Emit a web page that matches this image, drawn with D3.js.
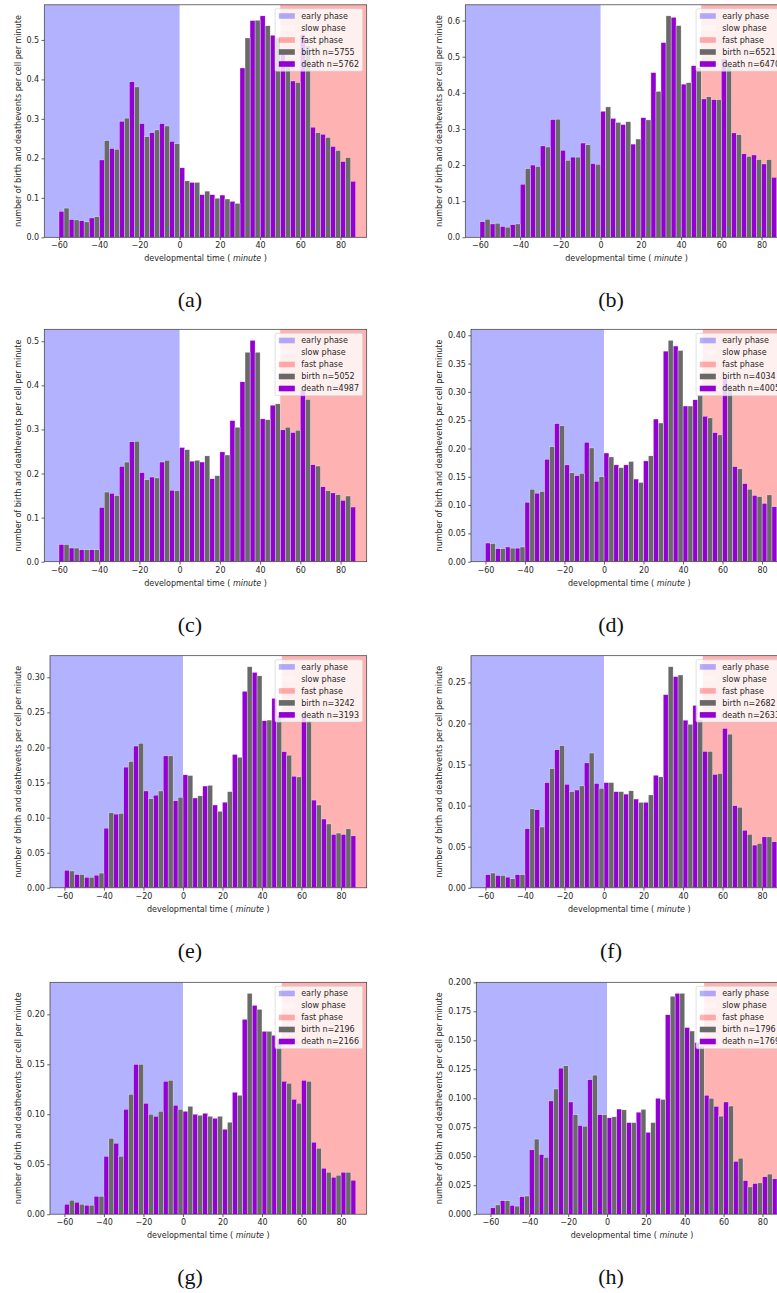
<!DOCTYPE html>
<html><head><meta charset="utf-8">
<script src="https://cdn.jsdelivr.net/npm/d3@7"></script>
<style>body{margin:0;background:#fff}svg{display:block}</style>
</head><body>
<svg id="c" width="777" height="1293"></svg>
<script>
// ---------- data ----------
const binStart = [-60,-55,-50,-45,-40,-35,-30,-25,-20,-15,-10,-5,0,5,10,15,20,25,30,35,40,45,50,55,60,65,70,75,80,85];
const xTicks = [-60,-40,-20,0,20,40,60,80];
const phaseNames = ["early phase","slow phase","fast phase"];
const phaseBounds = [0, 50];
const panelLabels = ["(a)","(b)","(c)","(d)","(e)","(f)","(g)","(h)"];
const nBirth = [5755,6521,5052,4034,3242,2682,2196,1796];
const nDeath = [5762,6470,4987,4005,3193,2633,2166,1769];

const deathA = [0.066,0.045,0.042,0.049,0.196,0.225,0.294,0.394,0.288,0.265,0.288,0.243,0.176,0.139,0.108,0.108,0.107,0.091,0.429,0.549,0.561,0.512,0.470,0.396,0.514,0.279,0.261,0.230,0.192,0.142];
const birthA = [0.074,0.044,0.039,0.052,0.245,0.223,0.302,0.381,0.255,0.272,0.282,0.237,0.143,0.139,0.117,0.099,0.097,0.086,0.505,0.550,0.536,0.505,0.440,0.392,0.485,0.265,0.253,0.220,0.202,null];
const deathB = [0.043,0.037,0.030,0.035,0.147,0.200,0.253,0.326,0.241,0.222,0.261,0.204,0.349,0.329,0.312,0.258,0.331,0.456,0.539,0.609,0.424,0.475,0.383,0.381,0.494,0.289,0.231,0.228,0.203,0.166];
const birthB = [0.050,0.039,0.028,0.037,0.190,0.196,0.250,0.327,0.213,0.222,0.256,0.202,0.361,0.318,0.320,0.272,0.325,0.404,0.613,0.586,0.428,0.470,0.389,0.381,0.476,0.284,0.224,0.215,0.215,null];
const deathC = [0.039,0.031,0.027,0.027,0.123,0.155,0.216,0.272,0.202,0.192,0.226,0.162,0.259,0.228,0.226,0.188,0.249,0.320,0.408,0.502,0.324,0.355,0.299,0.293,0.389,0.220,0.170,0.156,0.139,0.124];
const birthC = [0.039,0.031,0.027,0.027,0.158,0.150,0.226,0.273,0.186,0.190,0.230,0.161,0.254,0.230,0.240,0.195,0.242,0.305,0.475,0.475,0.322,0.358,0.305,0.298,0.368,0.217,0.161,0.152,0.149,null];
const deathD = [0.033,0.023,0.026,0.024,0.105,0.121,0.181,0.244,0.171,0.152,0.211,0.142,0.192,0.171,0.171,0.146,0.178,0.252,0.372,0.381,0.275,0.286,0.257,0.228,0.325,0.168,0.138,0.117,0.103,0.097];
const birthD = [0.032,0.023,0.024,0.026,0.128,0.124,0.203,0.240,0.157,0.156,0.201,0.150,0.185,0.166,0.177,0.140,0.187,0.245,0.391,0.373,0.275,0.295,0.254,0.224,0.313,0.164,0.128,0.115,0.118,null];
const deathE = [0.025,0.019,0.015,0.018,0.085,0.105,0.172,0.202,0.138,0.132,0.188,0.124,0.161,0.128,0.145,0.118,0.122,0.190,0.280,0.307,0.238,0.270,0.194,0.159,0.248,0.125,0.098,0.076,0.076,0.074];
const birthE = [0.024,0.019,0.015,0.021,0.107,0.106,0.180,0.206,0.127,0.138,0.188,0.129,0.160,0.131,0.146,0.109,0.137,0.186,0.315,0.302,0.239,0.245,0.189,0.158,0.238,0.118,0.091,0.078,0.084,null];
const deathF = [0.016,0.015,0.013,0.016,0.072,0.095,0.128,0.168,0.126,0.119,0.152,0.127,0.128,0.117,0.114,0.108,0.104,0.137,0.235,0.257,0.204,0.222,0.166,0.138,0.194,0.100,0.070,0.052,0.062,0.056];
const birthF = [0.018,0.015,0.011,0.016,0.096,0.074,0.145,0.173,0.117,0.124,0.164,0.121,0.128,0.117,0.118,0.104,0.113,0.135,0.269,0.259,0.199,0.205,0.166,0.139,0.187,0.098,0.065,0.054,0.062,null];
const deathG = [0.010,0.012,0.009,0.018,0.058,0.071,0.105,0.150,0.111,0.098,0.133,0.109,0.103,0.100,0.101,0.096,0.085,0.122,0.195,0.209,0.183,0.179,0.133,0.115,0.134,0.072,0.046,0.037,0.042,0.034];
const birthG = [0.014,0.010,0.009,0.018,0.076,0.058,0.120,0.150,0.100,0.103,0.134,0.105,0.108,0.099,0.098,0.098,0.092,0.119,0.221,0.205,0.183,0.175,0.131,0.111,0.133,0.066,0.042,0.039,0.042,null];
const deathH = [0.0055,0.0116,0.0076,0.0151,0.0555,0.0515,0.0977,0.126,0.0968,0.0765,0.116,0.0858,0.0831,0.0907,0.079,0.088,0.0706,0.100,0.172,0.1905,0.161,0.148,0.1026,0.093,0.0968,0.0456,0.029,0.0265,0.0323,0.0305];
const birthH = [0.008,0.0116,0.007,0.0157,0.0648,0.049,0.108,0.128,0.0858,0.0759,0.120,0.0858,0.084,0.090,0.079,0.0904,0.079,0.099,0.188,0.1905,0.158,0.145,0.100,0.0846,0.0933,0.0483,0.0235,0.027,0.0346,null];

const yTicksA = [0.0,0.1,0.2,0.3,0.4,0.5];
const yTicksB = [0.0,0.1,0.2,0.3,0.4,0.5,0.6];
const yTicksC = [0.0,0.1,0.2,0.3,0.4,0.5];
const yTicksD = [0.00,0.05,0.10,0.15,0.20,0.25,0.30,0.35,0.40];
const yTicksE = [0.00,0.05,0.10,0.15,0.20,0.25,0.30];
const yTicksF = [0.00,0.05,0.10,0.15,0.20,0.25];
const yTicksG = [0.00,0.05,0.10,0.15,0.20];
const yTicksH = [0.000,0.025,0.050,0.075,0.100,0.125,0.150,0.175,0.200];
const yDecimals = [1,1,1,2,2,2,2,3];

const deaths = [deathA,deathB,deathC,deathD,deathE,deathF,deathG,deathH];
const births = [birthA,birthB,birthC,birthD,birthE,birthF,birthG,birthH];
const yTicks = [yTicksA,yTicksB,yTicksC,yTicksD,yTicksE,yTicksF,yTicksG,yTicksH];

// ---------- layout ----------
const colX = [0, 421];
const plotLeftByDec = {1:44.3, 2:50, 3:55.3};
const plotRight = 366.7;
const rowTop = [4.8, 329.3, 655.7, 982.3];
const rowBottom = [237.3, 561.7, 887.8, 1214.2];
const xDomain = [-67.3, 93];
const binW = 2.5;
const C_DEATH = "#9400d3", C_BIRTH = "#696969";
const FONT = "DejaVu Sans, sans-serif";

const svg = d3.select("#c");
const defs = svg.append("defs");

panelLabels.forEach((lab, i) => {
  const col = i % 2, row = Math.floor(i / 2);
  const ox = colX[col];
  const L = ox + plotLeftByDec[yDecimals[i]], R = ox + plotRight;
  const T = rowTop[row], B = rowBottom[row];
  const death = deaths[i], birth = births[i];
  const ymax = d3.max(death.concat(birth.filter(v => v != null))) * 1.05;
  const x = d3.scaleLinear().domain(xDomain).range([L, R]);
  const y = d3.scaleLinear().domain([0, ymax]).range([B, T]);

  const g = svg.append("g");
  const cid = "clip" + i;
  defs.append("clipPath").attr("id", cid).append("rect")
    .attr("x", L).attr("y", T).attr("width", R - L).attr("height", B - T);
  const pg = g.append("g").attr("clip-path", `url(#${cid})`);

  // phase spans
  const spans = [
    {a: xDomain[0], b: phaseBounds[0], fill: "blue", op: 0.3},
    {a: phaseBounds[0], b: phaseBounds[1], fill: "white", op: 0.3},
    {a: phaseBounds[1], b: xDomain[1], fill: "red", op: 0.3}
  ];
  pg.selectAll("rect.span").data(spans).join("rect").attr("class","span")
    .attr("x", d => x(d.a)).attr("width", d => x(d.b) - x(d.a))
    .attr("y", T).attr("height", B - T)
    .attr("fill", d => d.fill).attr("fill-opacity", d => d.op);

  // bars
  const barsD = binStart.map((t, k) => ({t, v: death[k]}));
  const barsB = binStart.map((t, k) => ({t: t + binW, v: birth[k]})).filter(d => d.v != null);
  pg.selectAll("rect.d").data(barsD).join("rect").attr("class","d")
    .attr("x", d => x(d.t)).attr("width", d => x(d.t + binW) - x(d.t))
    .attr("y", d => y(d.v)).attr("height", d => y(0) - y(d.v))
    .attr("fill", C_DEATH).attr("stroke", "#fff").attr("stroke-width", 0.4).attr("stroke-opacity", 0.8);
  pg.selectAll("rect.b").data(barsB).join("rect").attr("class","b")
    .attr("x", d => x(d.t)).attr("width", d => x(d.t + binW) - x(d.t))
    .attr("y", d => y(d.v)).attr("height", d => y(0) - y(d.v))
    .attr("fill", C_BIRTH).attr("stroke", "#fff").attr("stroke-width", 0.4).attr("stroke-opacity", 0.8);

  // axes
  const xa = g.append("g").attr("transform", `translate(0,${B})`)
    .call(d3.axisBottom(x).tickValues(xTicks).tickSize(2.8).tickPadding(2.4)
      .tickFormat(d => d < 0 ? "\u2212" + Math.abs(d) : String(d)));
  const ya = g.append("g").attr("transform", `translate(${L},0)`)
    .call(d3.axisLeft(y).tickValues(yTicks[i]).tickSize(2.8).tickPadding(2.4)
      .tickFormat(d => d.toFixed(yDecimals[i])));
  [xa, ya].forEach(a => {
    a.select(".domain").remove();
    a.selectAll("line").attr("stroke", "#222").attr("stroke-width", 0.7);
    a.selectAll("text").attr("font-family", FONT).attr("font-size", 8).attr("fill", "#262626");
  });

  // spines
  g.append("rect").attr("x", L).attr("y", T).attr("width", R - L).attr("height", B - T)
    .attr("fill", "none").attr("stroke", "#333").attr("stroke-width", 0.7);

  // axis labels
  const xl = g.append("text").attr("x", (L + R) / 2).attr("y", B + 24)
    .attr("text-anchor", "middle").attr("font-family", FONT).attr("font-size", 8).attr("fill", "#262626");
  xl.append("tspan").text("developmental time ( ");
  xl.append("tspan").attr("font-style", "italic").text("minute");
  xl.append("tspan").text(" )");
  g.append("text").attr("transform", `translate(${ox + 21},${(T + B) / 2}) rotate(-90)`)
    .attr("text-anchor", "middle").attr("font-family", FONT).attr("font-size", 8).attr("fill", "#262626")
    .text("number of birth and deathevents per cell per minute");

  // legend
  const entries = [
    {label: phaseNames[0], fill: "blue", op: 0.3},
    {label: phaseNames[1], fill: "white", op: 0.3},
    {label: phaseNames[2], fill: "red", op: 0.3},
    {label: "birth n=" + nBirth[i], fill: C_BIRTH, op: 1},
    {label: "death n=" + nDeath[i], fill: C_DEATH, op: 1}
  ];
  const lg = g.append("g");
  const frame = lg.append("rect");
  const fs = 8, pad = 3.2, hl = 16, hp = 6.4, rowH = 12;
  const texts = [];
  entries.forEach((e, k) => {
    const cy = pad + 4 + k * rowH;
    lg.append("rect").attr("class","h").attr("data-k", k)
      .attr("y", cy - 2.8).attr("width", hl).attr("height", 5.6)
      .attr("fill", e.fill).attr("fill-opacity", e.op);
    texts.push(lg.append("text").attr("y", cy + 2.9).attr("font-family", FONT)
      .attr("font-size", fs).attr("fill", "#262626").text(e.label));
  });
  const tw = d3.max(texts, t => t.node().getComputedTextLength());
  const lw = pad + hl + hp + tw + pad + 1;
  const lh = pad * 2 + 5 * fs + 4 * 4;
  const lx = R - 4 - lw, ly = T + 4;
  lg.attr("transform", `translate(${lx},${ly})`);
  frame.attr("width", lw).attr("height", lh).attr("rx", 1.6)
    .attr("fill", "#fff").attr("fill-opacity", 0.8).attr("stroke", "#cccccc").attr("stroke-width", 0.6);
  lg.selectAll("rect.h").attr("x", pad + 0.5);
  texts.forEach(t => t.attr("x", pad + 0.5 + hl + hp));

  // caption
  svg.append("text").attr("x", ox + 190).attr("y", B + 70)
    .attr("text-anchor", "middle").attr("font-family", "Liberation Serif, serif")
    .attr("font-size", 22).attr("fill", "#111").text(lab);
});
</script>
</body></html>
